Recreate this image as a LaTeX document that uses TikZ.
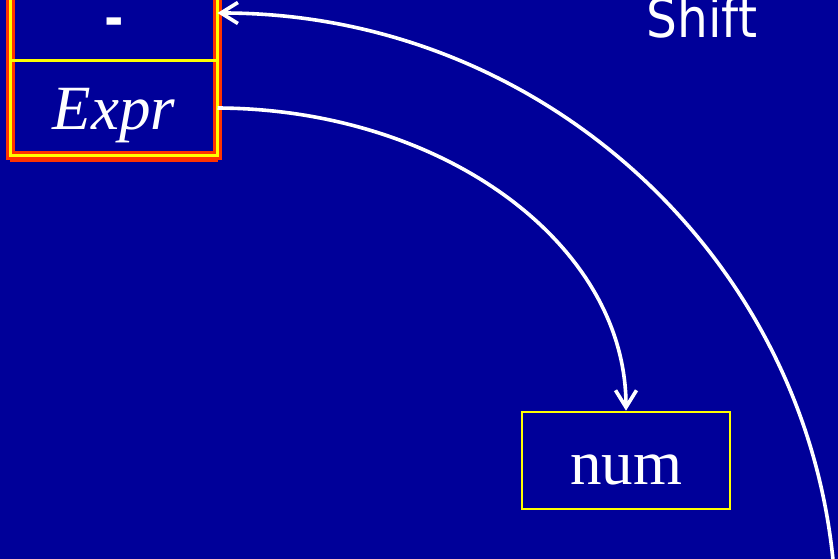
\documentclass[tikz,border=0pt]{standalone}
\usepackage{fontspec}
\setmainfont{Liberation Serif}
\newfontfamily\tahomaish{DejaVu Sans Condensed}
\usetikzlibrary{arrows.meta}
\definecolor{bgblue}{RGB}{0,0,153}
\definecolor{frred}{RGB}{255,51,0}
\definecolor{ylw}{RGB}{255,255,0}
\tikzset{
  conn/.style={draw=white, line width=3.6pt, -{Straight Barb[length=17pt,width=21pt]}},
  cell/.style={inner sep=0pt, outer sep=0pt, minimum width=207pt},
  bigtext/.style={anchor=base, text=white, inner sep=0pt},
}
\begin{document}
\begin{tikzpicture}[x=1pt,y=-1pt]
\fill[bgblue] (0,0) rectangle (838,559);
\useasboundingbox (0,0) rectangle (838,559);
% stack cells (shape only)
\node[cell, minimum height=96pt] (minus) at (114,13) {};
\node[cell, minimum height=94pt] (expr) at (114,108) {};
% stack frame
\fill[frred] (10,154) rectangle (218,162);
\draw[frred, line width=8.5pt] (10.5,-10) -- (10.5,155.5) -- (217.5,155.5) -- (217.5,-10);
\draw[ylw, line width=3pt] (10.5,-10) -- (10.5,155.5) -- (217.5,155.5) -- (217.5,-10);
\draw[ylw, line width=3pt] (10.5,61) -- (217.5,61);
% texts of stack
\node[bigtext, font=\tahomaish\bfseries\fontsize{52}{52}\selectfont] (minustxt) at (114,37) {-};
\node[bigtext, font=\itshape\fontsize{63}{63}\selectfont] (exprtxt) at (114,130) {Expr};
% num box
\node[draw=ylw, line width=2pt, inner sep=0pt, minimum width=208pt, minimum height=97.6pt] (num) at (626,460.5) {};
\node[bigtext, font=\fontsize{63}{63}\selectfont] (numtxt) at (626,484.3) {num};
% Shift label
\node[bigtext, font=\tahomaish\fontsize{54}{54}\selectfont] (shift) at (702,38) {Shift};
% connectors
\coordinate (tail) at (836,620);
\draw[conn] (expr.east) .. controls (443,109) and (626,244) .. (num.north);
\draw[conn] (tail) .. controls (836,285) and (559,13) .. (minus.east);
\end{tikzpicture}
\end{document}
